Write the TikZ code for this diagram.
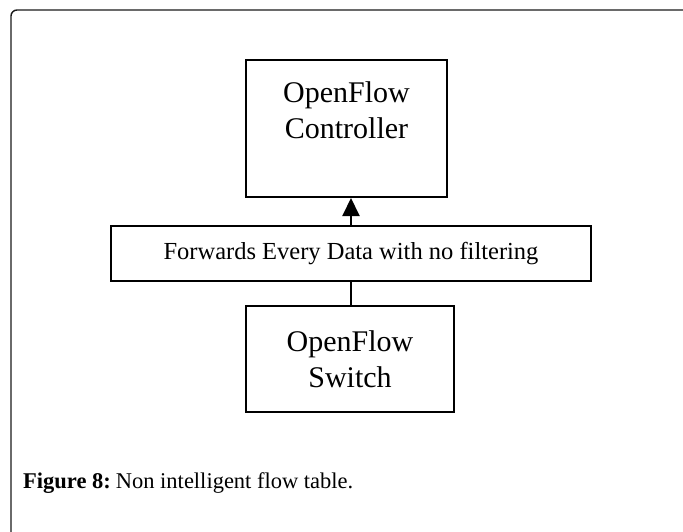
\documentclass[tikz,border=0pt]{standalone}
\usepackage{fontspec}
\setmainfont{Liberation Serif}
\usetikzlibrary{arrows.meta}
\usepackage{xcolor}
\definecolor{FrameBlack}{HTML}{1A1A1A}
\tikzset{
    % Box styles - all sharp corners
    flowbox/.style={
        rectangle,
        draw=black,
        fill=white,
        line width=2pt,
        inner sep=0pt,
        align=center,
        font=\fontsize{30}{36}\selectfont
    },
    databox/.style={
        rectangle,
        draw=black,
        fill=white,
        line width=2pt,
        minimum width=480pt,
        minimum height=55pt,
        align=center,
        font=\fontsize{24.5}{29}\selectfont
    },
    captext/.style={
        anchor=base west,
        inner sep=0pt,
        font=\fontsize{22.5}{27}\selectfont
    },
    % Arrow styles - straight lines only
    arrow/.style={
        -{Triangle[width=17pt, length=18pt]},
        line width=2pt,
        draw=black
    },
    plainline/.style={
        line width=2pt,
        draw=black
    }
}
\begin{document}
\begin{tikzpicture}[x=1pt, y=-1pt]
    \useasboundingbox (0,0) rectangle (683,531);
    \clip (0,0) rectangle (683,531);
    % outer frame
    \draw[FrameBlack, line width=1.4pt, rounded corners=6pt] (11,10) rectangle (690,560);

    \node[flowbox, minimum width=201pt, minimum height=137pt] (ctrl) at (346.5,128.5) {OpenFlow\\Controller\\\mbox{}};
    \node[databox] (fwd) at (351,253.5) {Forwards Every Data with no filtering};
    \node[flowbox, minimum width=208pt, minimum height=106pt] (sw) at (350,359) {OpenFlow\\Switch};

    \node[captext] (cap) at (23,488) {\textbf{Figure 8:}\hspace{5pt}Non intelligent flow table.};

    \draw[arrow] (fwd.north) -- (fwd.north |- ctrl.south);
    \draw[plainline] (fwd.south) -- (fwd.south |- sw.north);
\end{tikzpicture}
\end{document}
